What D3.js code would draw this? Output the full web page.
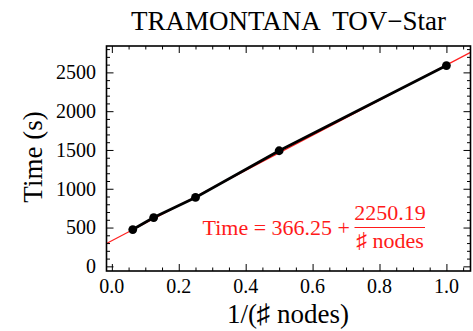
<!DOCTYPE html>
<html>
<head>
<meta charset="utf-8">
<script src="https://cdn.jsdelivr.net/npm/d3@7"></script>
<style>
  html, body { margin: 0; padding: 0; background: #fff; }
  svg { display: block; font-family: "Liberation Serif", "Times New Roman", serif; }
</style>
</head>
<body>
<svg id="chart" width="473" height="331"></svg>
<script>
// data
const inverseNodes = [0.0625, 0.125, 0.25, 0.5, 1.0];
const timeSeconds = [474, 629, 888, 1490, 2588];
// the red fit line as drawn (end points at the frame edges)
const fitLineX = [-0.016, 1.072];
const fitLineY = [294, 2758];
// the printed fit formula
const fitIntercept = "366.25";
const fitSlope = "2250.19";
const xTicks = [0.0, 0.2, 0.4, 0.6, 0.8, 1.0];
const yTicks = [0, 500, 1000, 1500, 2000, 2500];

const frame = { left: 106.5, right: 470.5, top: 46, bottom: 271 };

const svg = d3.select("#chart");

const x = d3.scaleLinear().domain([-0.016, 1.072]).range([frame.left, frame.right]);
const y = d3.scaleLinear().domain([-60, 2840]).range([frame.bottom, frame.top]);

const clipId = "plot-clip";
svg.append("defs").append("clipPath").attr("id", clipId)
  .append("rect")
  .attr("x", frame.left).attr("y", frame.top)
  .attr("width", frame.right - frame.left).attr("height", frame.bottom - frame.top);

// fit line (red)
const fitPts = fitLineX.map((v, i) => [v, fitLineY[i]]);
svg.append("path")
  .attr("clip-path", `url(#${clipId})`)
  .attr("d", d3.line().x((d) => x(d[0])).y((d) => y(d[1]))(fitPts))
  .attr("fill", "none")
  .attr("stroke", "#ff2020")
  .attr("stroke-width", 1.2);

// measured data
const pts = inverseNodes.map((v, i) => [v, timeSeconds[i]]);
svg.append("path")
  .attr("d", d3.line().x((d) => x(d[0])).y((d) => y(d[1]))(pts))
  .attr("fill", "none")
  .attr("stroke", "#000")
  .attr("stroke-width", 2.8);
svg.append("g")
  .selectAll("circle")
  .data(pts)
  .join("circle")
  .attr("cx", (d) => x(d[0]))
  .attr("cy", (d) => y(d[1]))
  .attr("r", 4.4)
  .attr("fill", "#000");

// frame with inward ticks on all four sides
const xMinor = d3.range(0, 1.0501, 0.05).filter((v) => !xTicks.some((t) => Math.abs(t - v) < 1e-6));
const yMinor = d3.range(0, 2801, 100).filter((v) => !yTicks.includes(v));

function frameAxis(axisFn, scale, major, minor, transform, size) {
  svg.append("g")
    .attr("transform", transform)
    .call(axisFn(scale).tickValues(minor).tickSize(size * 0.5).tickSizeOuter(0).tickFormat(""))
    .call((g) => g.select(".domain").remove())
    .call((g) => g.selectAll("line").attr("stroke", "#000").attr("stroke-width", 1));
  svg.append("g")
    .attr("transform", transform)
    .call(axisFn(scale).tickValues(major).tickSize(size).tickSizeOuter(0).tickFormat(""))
    .call((g) => g.select(".domain").remove())
    .call((g) => g.selectAll("line").attr("stroke", "#000").attr("stroke-width", 1));
}
frameAxis(d3.axisTop, x, xTicks, xMinor, `translate(0,${frame.bottom})`, 7);
frameAxis(d3.axisBottom, x, xTicks, xMinor, `translate(0,${frame.top})`, 7);
frameAxis(d3.axisRight, y, yTicks, yMinor, `translate(${frame.left},0)`, 7);
frameAxis(d3.axisLeft, y, yTicks, yMinor, `translate(${frame.right},0)`, 7);

svg.append("rect")
  .attr("x", frame.left).attr("y", frame.top)
  .attr("width", frame.right - frame.left).attr("height", frame.bottom - frame.top)
  .attr("fill", "none")
  .attr("stroke", "#000")
  .attr("stroke-width", 1.6);

// tick labels
svg.append("g")
  .selectAll("text")
  .data(xTicks)
  .join("text")
  .attr("x", (d) => x(d))
  .attr("y", 292.5)
  .attr("text-anchor", "middle")
  .style("font-size", "20px")
  .attr("fill", "#000")
  .text((d) => d.toFixed(1));
svg.append("g")
  .selectAll("text")
  .data(yTicks)
  .join("text")
  .attr("x", 96)
  .attr("y", (d) => y(d) + 6.8)
  .attr("text-anchor", "end")
  .style("font-size", "20px")
  .attr("fill", "#000")
  .text((d) => d);

// titles
svg.append("text")
  .attr("x", 288.5)
  .attr("y", 29.5)
  .attr("text-anchor", "middle")
  .attr("xml:space", "preserve")
  .style("font-size", "27px")
  .attr("fill", "#000")
  .text("TRAMONTANA  TOV\u2212Star");

svg.append("text")
  .attr("x", 288)
  .attr("y", 323)
  .attr("text-anchor", "middle")
  .style("font-size", "27px")
  .attr("fill", "#000")
  .text("1/(\u266F nodes)");

svg.append("text")
  .attr("transform", `translate(42,157) rotate(-90)`)
  .attr("text-anchor", "middle")
  .style("font-size", "27px")
  .attr("fill", "#000")
  .text("Time (s)");

// fit formula
const red = "#ff1a1a";
const fracX = 390;
svg.append("text")
  .attr("x", 350)
  .attr("y", 235)
  .attr("text-anchor", "end")
  .attr("xml:space", "preserve")
  .style("font-size", "22px")
  .attr("fill", red)
  .text(`Time = ${fitIntercept} +`);
svg.append("text")
  .attr("x", fracX)
  .attr("y", 220)
  .attr("text-anchor", "middle")
  .style("font-size", "22px")
  .attr("fill", red)
  .text(fitSlope);
svg.append("line")
  .attr("x1", 354.5).attr("x2", 425)
  .attr("y1", 227.5).attr("y2", 227.5)
  .attr("stroke", red)
  .attr("stroke-width", 1);
svg.append("text")
  .attr("x", fracX)
  .attr("y", 248)
  .attr("text-anchor", "middle")
  .style("font-size", "22px")
  .attr("fill", red)
  .text("\u266F nodes");
</script>
</body>
</html>
